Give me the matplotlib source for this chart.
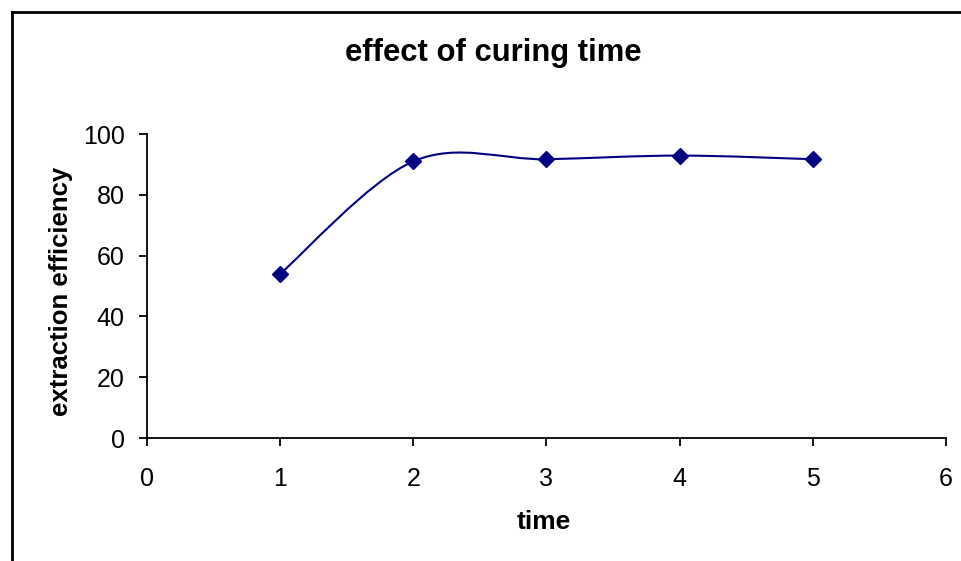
import numpy as np
import matplotlib
matplotlib.use("Agg")
import matplotlib.pyplot as plt
from matplotlib.lines import Line2D
from matplotlib.path import Path
from matplotlib.patches import PathPatch

plt.rcParams["font.family"] = ["Liberation Sans", "DejaVu Sans"]

# curing time vs extraction efficiency
time = [1, 2, 3, 4, 5]
efficiency = [54, 91, 91.7, 92.9, 91.7]

LINE_COLOR = "#000080"


def smooth_path(xs, ys):
    """Cubic Bezier through the points, spreadsheet-style smoothing (tension 1/6)."""
    pts = np.column_stack([xs, ys]).astype(float)
    n = len(pts)
    verts = [pts[0]]
    codes = [Path.MOVETO]
    for i in range(n - 1):
        p_prev = pts[i - 1] if i > 0 else pts[i]
        p0 = pts[i]
        p1 = pts[i + 1]
        p_next = pts[i + 2] if i + 2 < n else pts[i + 1]
        c1 = p0 + (p1 - p_prev) / 6.0
        c2 = p1 - (p_next - p0) / 6.0
        verts += [c1, c2, p1]
        codes += [Path.CURVE4] * 3
    return Path(verts, codes)


fig = plt.figure(figsize=(9.62, 5.61), dpi=100)
ax = fig.add_axes([147 / 962, 1 - 438 / 561, 799 / 962, 304 / 561])

ax.add_patch(PathPatch(smooth_path(time, efficiency), facecolor="none",
                       edgecolor=LINE_COLOR, lw=1.5))
ax.plot(time, efficiency, linestyle="none", marker="D", markersize=8,
        color=LINE_COLOR)

ax.set_xlim(0, 6)
ax.set_ylim(0, 100)
ax.set_xticks(range(0, 7))
ax.set_yticks(range(0, 101, 20))
ax.tick_params(axis="both", labelsize=18, length=6, width=1.3, direction="out")
ax.tick_params(axis="x", pad=15)
ax.tick_params(axis="y", pad=10)
ax.spines["top"].set_visible(False)
ax.spines["right"].set_visible(False)
ax.spines["left"].set_linewidth(1.3)
ax.spines["bottom"].set_linewidth(1.3)

ax.set_xlabel("time", fontsize=19, fontweight="bold", va="center")
ax.xaxis.set_label_coords(0.497, -84 / 304)
ax.set_ylabel("extraction efficiency", fontsize=18.5, fontweight="bold", va="center")
ax.yaxis.set_label_coords(-86 / 799, 0.482)
fig.text(493 / 962, 1 - 53 / 561, "effect of curing time", fontsize=22.3,
         fontweight="bold", ha="center", va="center")

# chart-area frame (left and top edges inside the canvas)
fx = 11.5 / 962
fy = 1 - 11.5 / 561
fig.add_artist(Line2D([fx, fx], [0, fy], transform=fig.transFigure, color="black", lw=2))
fig.add_artist(Line2D([fx, 1], [fy, fy], transform=fig.transFigure, color="black", lw=2))

fig.savefig("out.png", dpi=100)
